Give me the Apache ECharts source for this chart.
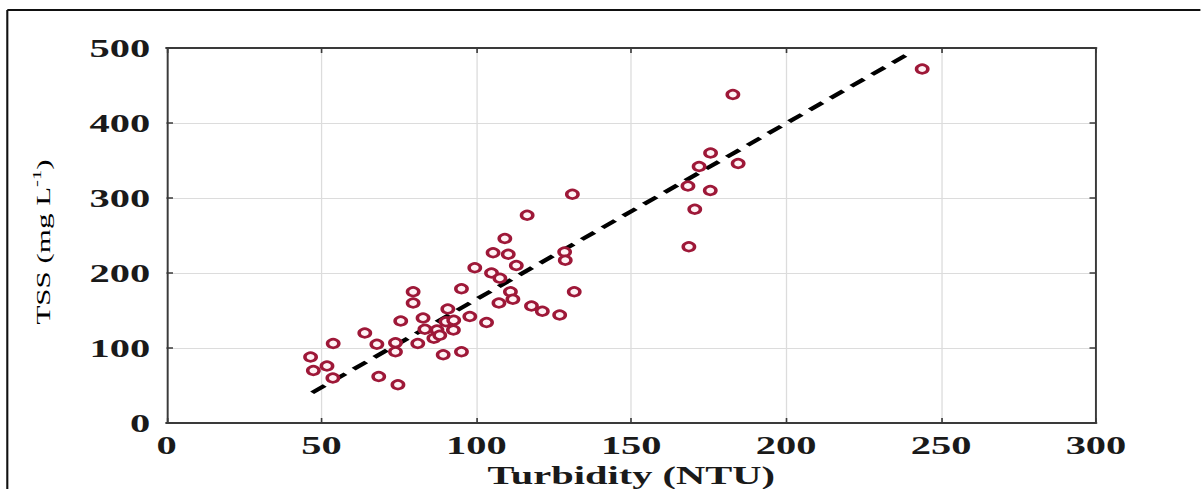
<!DOCTYPE html>
<html>
<head>
<meta charset="utf-8">
<script src="https://cdn.jsdelivr.net/npm/echarts@6/dist/echarts.min.js"></script>
<style>
html,body{margin:0;padding:0;background:#fff;overflow:hidden;}
#wrap{width:1201px;height:489px;overflow:hidden;position:relative;}
#chart{position:absolute;left:0;top:0;height:489px;transform-origin:0 0;}
</style>
</head>
<body>
<div id="wrap"><div id="chart"></div></div>
<script>
// Data
const turbidity = [46.5,47.4,51.8,53.7,53.8,64.0,67.9,68.5,74.7,73.9,73.9,75.6,79.6,79.6,81.1,82.8,83.4,86.3,87.3,88.2,89.3,95.2,90.2,90.8,92.7,92.6,95.2,97.9,99.5,103.3,104.9,107.6,105.4,110.3,109.2,112.9,111.0,111.8,107.3,116.4,117.8,121.3,126.9,128.5,128.7,131.0,131.6,168.6,168.3,170.5,171.9,175.6,175.5,184.5,182.8,243.9];
const tss = [88,70,76,60,106,120,105,62,51,95,107,136,175,160,106,140,125,113,124,117,91,95,135,152,137,124,179,142,207,134,200,193,227,225,246,210,175,165,160,277,156,149,144,228,217,305,175,235,316,285,342,360,310,346,438,472];
const fitX = [47.0, 240.5];
const fitY = [40.4, 494.7];
const xTicks = {min:0, max:300, interval:50};
const yTicks = {min:0, max:500, interval:100};
const xTitle = 'Turbidity (NTU)';

const S = 1.62; // horizontal stretch of the original figure
const W = 1201 / S;
const el = document.getElementById('chart');
el.style.width = W + 'px';
el.style.transform = 'scaleX(' + S + ')';

const chart = echarts.init(el, null, {renderer:'svg', width: W, height: 489});
const font = 'Liberation Serif, Times New Roman, serif';
const axisCol = '#3a3a3a';
const gl = 166.5 / S, gr = (1201 - 1096) / S;

const pts = turbidity.map((v,i)=>[v, tss[i]]);
const fit = fitX.map((v,i)=>[v, fitY[i]]);

const baseX = {type:'value', min:xTicks.min, max:xTicks.max, interval:xTicks.interval};
const baseY = {type:'value', min:yTicks.min, max:yTicks.max, interval:yTicks.interval};

chart.setOption({
  animation:false,
  backgroundColor:'#fff',
  grid:{left:gl, right:gr, top:48, bottom:66, containLabel:false, outerBoundsMode:'none'},
  xAxis:[
    Object.assign({}, baseX, {
      position:'bottom',
      name:xTitle, nameLocation:'middle', nameGap:38,
      nameTextStyle:{fontFamily:font, fontWeight:'bold', fontSize:25, lineHeight:26, color:'#1a1a1a'},
      axisLine:{show:true, onZero:false, lineStyle:{color:axisCol, width:1.8}},
      axisTick:{show:true, inside:true, length:5, lineStyle:{color:axisCol, width:1}},
      axisLabel:{fontFamily:font, fontWeight:'bold', fontSize:25, color:'#1a1a1a', margin:10},
      splitLine:{show:true, lineStyle:{color:'#dcdcdc', width:0.8}}
    }),
    Object.assign({}, baseX, {
      position:'top',
      axisLine:{show:true, onZero:false, lineStyle:{color:axisCol, width:1.8}},
      axisTick:{show:true, inside:true, length:5, lineStyle:{color:axisCol, width:1}},
      axisLabel:{show:false},
      splitLine:{show:false}
    })
  ],
  yAxis:[
    Object.assign({}, baseY, {
      position:'left',
      axisLine:{show:true, onZero:false, lineStyle:{color:axisCol, width:1.2}},
      axisTick:{show:true, inside:true, length:4, lineStyle:{color:axisCol, width:1.5}},
      axisLabel:{fontFamily:font, fontWeight:'bold', fontSize:25, color:'#1a1a1a', margin:10},
      splitLine:{show:true, lineStyle:{color:'#dcdcdc', width:1.2}}
    }),
    Object.assign({}, baseY, {
      position:'right',
      axisLine:{show:true, onZero:false, lineStyle:{color:axisCol, width:1.2}},
      axisTick:{show:true, inside:true, length:4, lineStyle:{color:axisCol, width:1.5}},
      axisLabel:{show:false},
      splitLine:{show:false}
    })
  ],
  graphic:[
    {type:'line', shape:{x1:7.3/S, y1:10, x2:7.3/S, y2:489}, style:{stroke:'#111', lineWidth:1.3}, silent:true},
    {type:'line', shape:{x1:7.3/S, y1:10, x2:W+5, y2:10}, style:{stroke:'#111', lineWidth:2.2}, silent:true},
    {type:'text', x:44/S, y:242, rotation:Math.PI/2, scaleX:1.72, scaleY:1/S, silent:true,
      style:{
        text:'{a|TSS (mg L}{s|-1}{a|)}',
        align:'center', verticalAlign:'middle',
        rich:{
          a:{fontFamily:font, fontSize:18, color:'#000', lineHeight:22},
          s:{fontFamily:font, fontSize:12, color:'#000', padding:[0,0,13,0]}
        }
      }
    }
  ],
  series:[
    {
      type:'line', data:fit, symbol:'none', silent:true, z:3,
      lineStyle:{color:'#000', width:3.6, type:[10.6,6.8]}
    },
    {
      type:'scatter', data:pts, symbol:'circle', symbolSize:[7,8.5], z:4,
      itemStyle:{color:'#fff2f5', borderColor:'#9e1838', borderWidth:2.4, opacity:1}
    }
  ]
});
</script>
</body>
</html>
